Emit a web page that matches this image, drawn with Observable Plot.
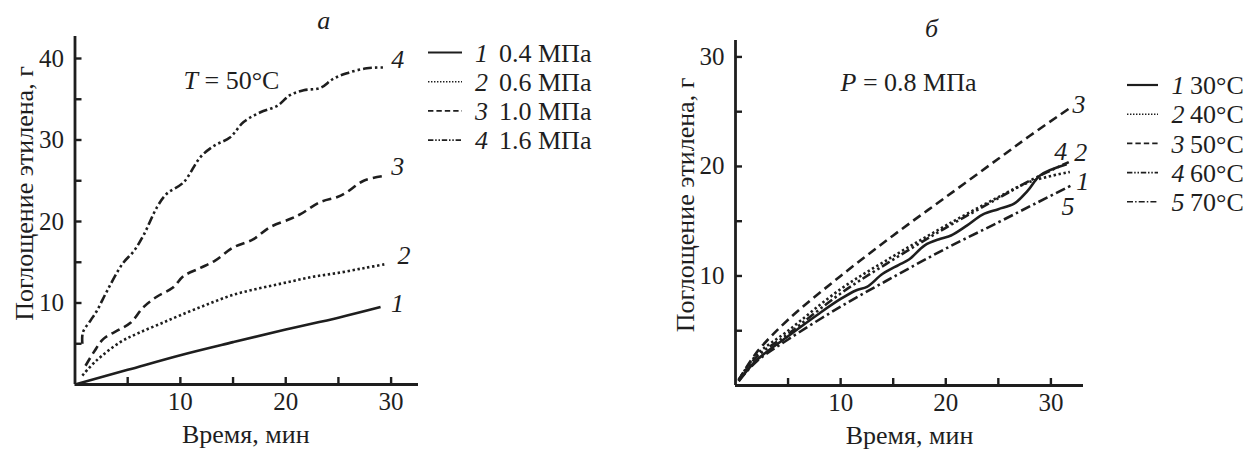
<!DOCTYPE html>
<html><head><meta charset="utf-8">
<script src="https://cdn.jsdelivr.net/npm/d3@7"></script>
<script src="https://cdn.jsdelivr.net/npm/@observablehq/plot@0.6"></script>
<style>
body{margin:0;background:#fff}
#wrap{position:relative;width:1251px;height:449px;overflow:hidden;background:#fff;font-family:"Liberation Serif","Times New Roman",serif}
.abs{position:absolute;top:0}
svg text{font-family:"Liberation Serif","Times New Roman",serif}
</style></head><body><div id="wrap"></div>
<script>
// ---------- data (time, min ; ethylene uptake, g) ----------
// panel а : T = 50°C, different pressures
const a1 = [[0,0],[5,1.8],[10,3.6],[15,5.2],[20,6.75],[25,8.2],[29,9.5]];
const a2 = [[0.7,1.1],[2,2.9],[4.3,5.2],[6,6.3],[8,7.4],[10,8.5],[12.5,9.8],[15,11.0],[17.5,11.8],[20,12.5],[22.5,13.2],[25,13.7],[27.5,14.3],[29.6,14.8]];
const a3 = [[1.0,2.3],[1.8,4.0],[2.7,5.6],[4.3,6.8],[5.3,7.6],[6.5,9.5],[7.8,10.8],[9.3,11.9],[10.3,13.3],[11.9,14.3],[13.3,15.2],[15,16.8],[16.9,17.8],[18.5,19.3],[20.4,20.3],[21.4,20.9],[23.3,22.4],[24.9,23.0],[25.8,23.6],[27.4,25.0],[29.4,25.6]];
const a4 = [[0.7,5.0],[0.75,6.4],[1.5,7.9],[2.1,9.1],[3.05,11.5],[4.5,14.8],[5.6,16.4],[6.5,18.3],[7.8,21.8],[8.7,23.4],[10.3,24.8],[11.9,27.9],[13.2,29.3],[14.7,30.3],[16,32.2],[17.6,33.4],[19.2,34.2],[20.4,35.5],[21.7,36.1],[23.3,36.4],[24.5,37.5],[25.8,38.2],[27.7,38.8],[29.3,38.9]];
// panel б : P = 0.8 MPa, different temperatures
const b1 = [[0.3,0.4],[2,2.3],[5,4.5],[8,6.6],[10,7.9],[11.5,8.7],[12.5,9.0],[14,10.2],[15.5,11.0],[16.5,11.5],[18,12.8],[19.5,13.4],[20.5,13.7],[22,14.6],[23.5,15.6],[25,16.1],[26.5,16.6],[27.8,17.8],[29,19.2],[31.5,20.2]];
const b2 = [[0.3,0.5],[2,2.8],[5,5.0],[10,8.8],[15,11.8],[20,14.6],[25,17.2],[28,18.6],[31.8,19.5]];
const b3 = [[0.3,0.5],[2,3.0],[5,6.0],[10,10.0],[15,13.7],[20,17.2],[25,20.7],[28,22.8],[31.9,25.4]];
const b4 = [[0.3,0.5],[2,2.6],[5,4.7],[10,8.4],[15,11.5],[20,14.4],[25,17.1],[28,18.7],[31.7,20.4]];
const b5 = [[0.3,0.4],[2,2.2],[5,4.2],[10,7.2],[15,9.9],[20,12.5],[25,14.9],[28.7,16.7],[32,18.3]];

const legendNumsA = ["1","2","3","4"];
const legendTextA = ["0.4 МПа","0.6 МПа","1.0 МПа","1.6 МПа"];
const legendNumsB = ["1","2","3","4","5"];
const legendTextB = ["30°C","40°C","50°C","60°C","70°C"];

const xTicks = [5,10,15,20,25,30];
const xLabels = [10,20,30];
const yTicksA = [5,10,15,20,25,30,35,40];
const yLabelsA = [10,20,30,40];
const yTicksB = [5,10,15,20,25,30];
const yLabelsB = [10,20,30];

// ---------- styles ----------
const ink = "#1e1e1e";
const FONT = '"Liberation Serif","Times New Roman",serif';
const dashes = {solid: null, dot: "2.4,2.6", dash: "9,5", dashdotdot: "9,3,2.5,3,2.5,3", dashdot: "10,3.5,2.5,3.5"};
const seriesA = [{d: a1, s: dashes.solid, n: "1", dx: 17, dy: -3},
                 {d: a2, s: dashes.dot, n: "2", dx: 17, dy: -8},
                 {d: a3, s: dashes.dash, n: "3", dx: 13, dy: -9},
                 {d: a4, s: dashes.dashdotdot, n: "4", dx: 14, dy: -8}];
const seriesB = [{d: b1, s: dashes.solid},
                 {d: b2, s: dashes.dot},
                 {d: b3, s: dashes.dash},
                 {d: b4, s: dashes.dashdotdot},
                 {d: b5, s: dashes.dashdot}];
// curve-end labels in panel б: [label, series index, dx, dy]
const endLabelsB = [["3", 2, 8, -3], ["2", 3, 12, -9], ["4", 3, -8, -10], ["1", 1, 13, 10], ["5", 4, -4, 22]];

const X = d => d[0], Y = d => d[1];

function panel({w, ml, mr, mt, mb, xmax, ymax, yTicks, yLabels, series, extra}) {
  const H = 449;
  const fw = w - ml - mr, fh = H - mt - mb;
  const marks = [
    Plot.ruleX([0], {stroke: ink, strokeWidth: 2.8}),
    Plot.ruleY([0], {stroke: ink, strokeWidth: 2.8}),
    Plot.tickY(yTicks, {y: d => d, stroke: ink, strokeWidth: 2.4, insetRight: fw - 7}),
    Plot.tickX(xTicks, {x: d => d, stroke: ink, strokeWidth: 2.4, insetTop: fh - 7}),
    Plot.axisY({ticks: yLabels, tickSize: 0, tickPadding: 11, label: null, fontSize: 25, fill: ink}),
    Plot.axisX({ticks: xLabels, tickSize: 0, tickPadding: 8, label: null, fontSize: 25, fill: ink})
  ];
  for (const s of series) {
    marks.push(Plot.line(s.d, {x: X, y: Y, stroke: ink, strokeWidth: 2.6, strokeDasharray: s.s, curve: "catmull-rom", strokeLinecap: "butt"}));
  }
  return Plot.plot({
    width: w, height: H, marginLeft: ml, marginRight: mr, marginTop: mt, marginBottom: mb,
    x: {domain: [0, xmax], axis: null},
    y: {domain: [0, ymax], axis: null},
    style: {fontFamily: FONT, fontSize: "25px", color: ink, background: "transparent", overflow: "visible"},
    marks: marks.concat(extra)
  });
}

const plotA = panel({
  w: 420, ml: 74.5, mr: 2, mt: 36, mb: 65, xmax: 32.6, ymax: 42.7,
  yTicks: yTicksA, yLabels: yLabelsA, series: seriesA,
  extra: [
    ...seriesA.map(s => Plot.text([s.d[s.d.length - 1]], {x: X, y: Y, text: () => s.n, dx: s.dx, dy: s.dy, fontStyle: "italic", fontSize: 26, fill: ink})),
    Plot.text(["а"], {frameAnchor: "top", lineAnchor: "middle", dx: 77, dy: -16, fontStyle: "italic", fontSize: 26, fill: ink}),
    Plot.text(["T = 50°C"], {frameAnchor: "top-left", lineAnchor: "middle", textAnchor: "start", dx: 108.5, dy: 44, fontSize: 26, fill: ink}),
    Plot.text(["Поглощение этилена, г"], {frameAnchor: "left", textAnchor: "middle", rotate: -90, dx: -50, dy: -17, fontSize: 26, fill: ink}),
    Plot.text(["Время, мин"], {frameAnchor: "bottom", lineAnchor: "middle", dx: -1, dy: 50, fontSize: 26, fill: ink})
  ]
});

const plotB = panel({
  w: 420, ml: 55, mr: 17, mt: 40, mb: 64, xmax: 33.1, ymax: 31.5,
  yTicks: yTicksB, yLabels: yLabelsB, series: seriesB,
  extra: [
    ...endLabelsB.map(([t, i, dx, dy]) => {
      const d = seriesB[i].d;
      return Plot.text([d[d.length - 1]], {x: X, y: Y, text: () => t, dx, dy, fontStyle: "italic", fontSize: 26, fill: ink});
    }),
    Plot.text(["б"], {frameAnchor: "top", lineAnchor: "middle", dx: 22, dy: -12, fontStyle: "italic", fontSize: 26, fill: ink}),
    Plot.text(["P = 0.8 МПа"], {frameAnchor: "top-left", lineAnchor: "middle", textAnchor: "start", dx: 105, dy: 42, fontSize: 26, fill: ink}),
    Plot.text(["Поглощение этилена, г"], {frameAnchor: "left", textAnchor: "middle", rotate: -90, dx: -50.3, dy: -8, fontSize: 26, fill: ink}),
    Plot.text(["Время, мин"], {frameAnchor: "bottom", lineAnchor: "middle", dx: 0, dy: 50, fontSize: 26, fill: ink})
  ]
});

function italicFirst(svg, full, n) {
  d3.select(svg).selectAll("text").filter(function () { return this.textContent === full; }).each(function () {
    const t = d3.select(this);
    t.text(null);
    t.append("tspan").attr("font-style", "italic").text(full.slice(0, n));
    t.append("tspan").text(full.slice(n));
  });
}
italicFirst(plotA, "T = 50°C", 1);
italicFirst(plotB, "P = 0.8 МПа", 1);

const wrap = document.getElementById("wrap");
plotA.classList.add("abs"); plotA.style.left = "0px";
plotB.classList.add("abs"); plotB.style.left = "680px";
wrap.appendChild(plotA);
wrap.appendChild(plotB);

// ---------- legends ----------
const leg = d3.select(wrap).append("svg").attr("class", "abs").style("left", "0px")
  .attr("width", 1251).attr("height", 449).style("pointer-events", "none");
function legend(nums, texts, styles, {x1, x2, xn, xt, y0, step}) {
  nums.forEach((n, i) => {
    const y = y0 + i * step;
    leg.append("line").attr("x1", x1).attr("x2", x2).attr("y1", y).attr("y2", y)
      .attr("stroke", ink).attr("stroke-width", styles[i] ? 1.6 : 2.2)
      .attr("stroke-dasharray", styles[i] ? styles[i].split(",").map(v => v * 0.6).join(",") : null);
    leg.append("text").attr("x", xn).attr("y", y).attr("dy", "0.35em").attr("text-anchor", "middle")
      .attr("font-style", "italic").attr("font-size", 26).attr("fill", ink).text(n);
    leg.append("text").attr("x", xt).attr("y", y).attr("dy", "0.35em")
      .attr("font-size", 26).attr("fill", ink).text(texts[i]);
  });
}
legend(legendNumsA, legendTextA, seriesA.map(s => s.s), {x1: 428, x2: 462, xn: 481.5, xt: 499, y0: 52.5, step: 29.2});
legend(legendNumsB, legendTextB, seriesB.map(s => s.s), {x1: 1127, x2: 1158, xn: 1178, xt: 1190, y0: 85, step: 29.2});
</script></body></html>
